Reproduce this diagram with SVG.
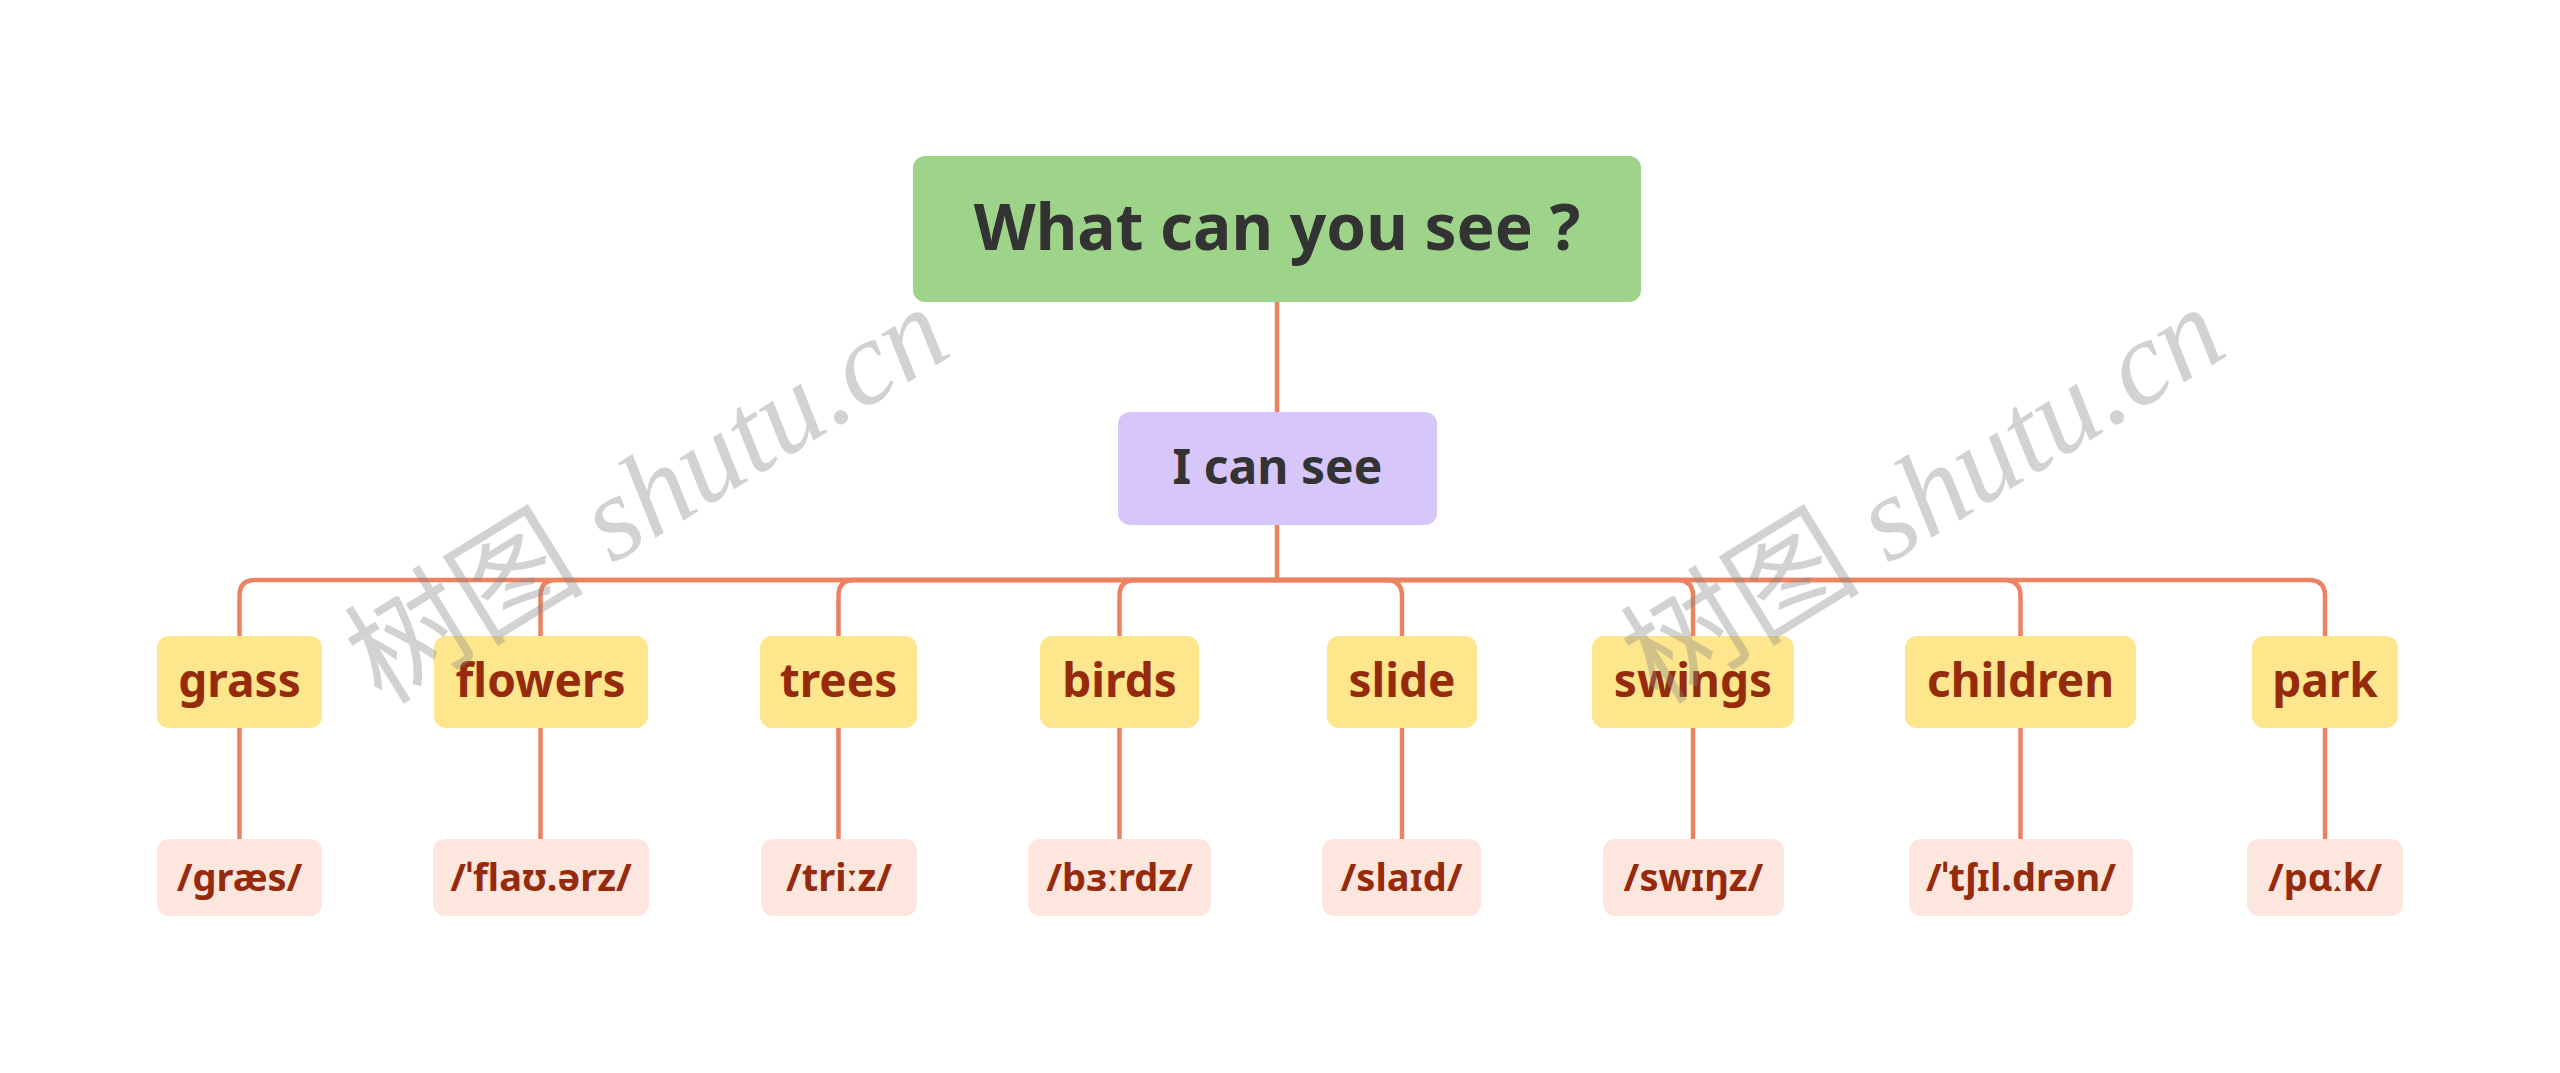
<svg xmlns="http://www.w3.org/2000/svg" width="2560" height="1073" viewBox="0 0 2560 1073">
<style>
.t{font-family:"Noto Sans","Open Sans","Liberation Sans",sans-serif;font-weight:bold;text-anchor:middle}
.root{fill:#9ED48A}
.sub{fill:#D6C6FA}
.kid{fill:#FDE68C}
.ph{fill:#FDE6DD}
.dark{fill:#333333}
.red{fill:#952B0C}
.c path{fill:none;stroke:#EC8260;stroke-width:4.5;stroke-linecap:round}
.wm{font-family:"Liberation Serif","Noto Sans CJK SC",serif;font-style:italic;fill:#8A8A8A;fill-opacity:0.38;font-size:120px}
.cjk{font-family:"Noto Sans CJK SC",sans-serif;font-style:normal;font-weight:400}
</style>
<rect width="2560" height="1073" fill="#FFFFFF"/>
<g class="c" id="connectors">
<path d="M1277,302 V412"/>
<path d="M1277,525 V580"/>
<path d="M1277,580 H255 Q239.5,580 239.5,596 V636"/>
<path d="M1277,580 H556 Q540.5,580 540.5,596 V636"/>
<path d="M1277,580 H854 Q838.5,580 838.5,596 V636"/>
<path d="M1277,580 H1135 Q1119.5,580 1119.5,596 V636"/>
<path d="M1277,580 H1386 Q1402,580 1402,596 V636"/>
<path d="M1277,580 H1677 Q1693,580 1693,596 V636"/>
<path d="M1277,580 H2004 Q2020.5,580 2020.5,596 V636"/>
<path d="M1277,580 H2309 Q2325,580 2325,596 V636"/>
<path d="M239.5,728 V839"/>
<path d="M540.5,728 V839"/>
<path d="M838.5,728 V839"/>
<path d="M1119.5,728 V839"/>
<path d="M1402,728 V839"/>
<path d="M1693,728 V839"/>
<path d="M2020.5,728 V839"/>
<path d="M2325,728 V839"/>
</g>
<g id="root"><rect class="root" x="913" y="156" width="728" height="146" rx="12"/><text class="t dark" x="1277" y="250" font-size="64">What can you see ?</text></g>
<g id="icansee"><rect class="sub" x="1118" y="412" width="319" height="113" rx="12"/><text class="t dark" x="1277.5" y="484" font-size="48">I can see</text></g>
<g id="grass"><rect class="kid" x="157" y="636" width="165" height="92" rx="12"/><text class="t red" x="239.5" y="697" font-size="46">grass</text></g>
<g id="flowers"><rect class="kid" x="434" y="636" width="214" height="92" rx="12"/><text class="t red" x="540.5" y="697" font-size="46">flowers</text></g>
<g id="trees"><rect class="kid" x="760" y="636" width="157" height="92" rx="12"/><text class="t red" x="838.5" y="697" font-size="46">trees</text></g>
<g id="birds"><rect class="kid" x="1040" y="636" width="159" height="92" rx="12"/><text class="t red" x="1119.5" y="697" font-size="46">birds</text></g>
<g id="slide"><rect class="kid" x="1327" y="636" width="150" height="92" rx="12"/><text class="t red" x="1402" y="697" font-size="46">slide</text></g>
<g id="swings"><rect class="kid" x="1592" y="636" width="202" height="92" rx="12"/><text class="t red" x="1693" y="697" font-size="46">swings</text></g>
<g id="children"><rect class="kid" x="1905" y="636" width="231" height="92" rx="12"/><text class="t red" x="2020.5" y="697" font-size="46">children</text></g>
<g id="park"><rect class="kid" x="2252" y="636" width="146" height="92" rx="12"/><text class="t red" x="2325" y="697" font-size="46">park</text></g>
<g id="ph-grass"><rect class="ph" x="157" y="839" width="165" height="77" rx="12"/><text class="t red" x="239.5" y="891" font-size="38">/græs/</text></g>
<g id="ph-flowers"><rect class="ph" x="433" y="839" width="216" height="77" rx="12"/><text class="t red" x="541" y="891" font-size="38">/ˈflaʊ.ərz/</text></g>
<g id="ph-trees"><rect class="ph" x="761" y="839" width="156" height="77" rx="12"/><text class="t red" x="839" y="891" font-size="38">/triːz/</text></g>
<g id="ph-birds"><rect class="ph" x="1028" y="839" width="183" height="77" rx="12"/><text class="t red" x="1119.5" y="891" font-size="38">/bɜːrdz/</text></g>
<g id="ph-slide"><rect class="ph" x="1322" y="839" width="159" height="77" rx="12"/><text class="t red" x="1401.5" y="891" font-size="38">/slaɪd/</text></g>
<g id="ph-swings"><rect class="ph" x="1603" y="839" width="181" height="77" rx="12"/><text class="t red" x="1693.5" y="891" font-size="38">/swɪŋz/</text></g>
<g id="ph-children"><rect class="ph" x="1909" y="839" width="224" height="77" rx="12"/><text class="t red" x="2021" y="891" font-size="38">/ˈtʃɪl.drən/</text></g>
<g id="ph-park"><rect class="ph" x="2247" y="839" width="156" height="77" rx="12"/><text class="t red" x="2325" y="891" font-size="38">/pɑːk/</text></g>
<g id="watermark">
<text class="wm" transform="translate(382,706) rotate(-31.6)"><tspan class="cjk">树图</tspan> shutu.cn</text>
<text class="wm" transform="translate(1658,706) rotate(-31.6)"><tspan class="cjk">树图</tspan> shutu.cn</text>
</g>
</svg>
